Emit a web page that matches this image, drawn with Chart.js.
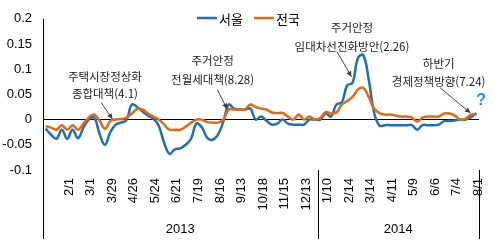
<!DOCTYPE html>
<html lang="ko">
<head>
<meta charset="utf-8">
<title>서울 / 전국 주간 아파트 매매가격 변동률</title>
<script src="https://cdn.jsdelivr.net/npm/chart.js@4.4.1/dist/chart.umd.min.js"></script>
<style>
  html, body { margin: 0; padding: 0; background: #fff; }
  #wrap { width: 500px; height: 244px; }
</style>
</head>
<body>
<div id="wrap"><canvas id="myChart" width="500" height="244"></canvas></div>
<script>
// 주간 기준일 (2013.1.4 ~ 2014.8.1, 추석/설 주간 빠짐)
const weeks = [
  "1/4", "1/11", "1/18", "1/25", "2/1", "2/8", "2/15", "2/22", "3/1", "3/8",
  "3/15", "3/22", "3/29", "4/5", "4/12", "4/19", "4/26", "5/3", "5/10", "5/17",
  "5/24", "5/31", "6/7", "6/14", "6/21", "6/28", "7/5", "7/12", "7/19", "7/26",
  "8/2", "8/9", "8/16", "8/23", "8/30", "9/6", "9/13", "9/27", "10/4", "10/11",
  "10/18", "10/25", "11/1", "11/8", "11/15", "11/22", "11/29", "12/6", "12/13", "12/20",
  "12/27", "1/3", "1/10", "1/17", "1/24", "2/7", "2/14", "2/21", "2/28", "3/7",
  "3/14", "3/21", "3/28", "4/4", "4/11", "4/18", "4/25", "5/2", "5/9", "5/16",
  "5/23", "5/30", "6/6", "6/13", "6/20", "6/27", "7/4", "7/11", "7/18", "7/25",
  "8/1"
];

// 서울
const seoul = [
  -0.018, -0.030, -0.038, -0.020, -0.038, -0.020, -0.037, -0.016, 0.000, 0.004,
  -0.028, -0.050, -0.025, -0.010, -0.006, -0.001, 0.030, 0.025, 0.016, 0.008,
  0.002, -0.012, -0.046, -0.068, -0.059, -0.057, -0.050, -0.038, -0.008, -0.015,
  -0.036, -0.040, -0.030, -0.004, 0.030, 0.022, 0.020, 0.020, 0.022, 0.000,
  0.006, -0.002, -0.010, -0.008, 0.000, -0.008, -0.010, -0.010, -0.010, 0.000,
  0.000, 0.000, 0.012, 0.006, 0.030, 0.034, 0.068, 0.073, 0.122, 0.128,
  0.080, 0.014, -0.012, -0.011, -0.011, -0.011, -0.011, -0.011, -0.011, -0.020,
  -0.011, -0.011, -0.011, -0.010, -0.003, -0.003, -0.002, 0.000, 0.000, 0.005,
  0.013
];

// 전국
const national = [
  -0.013, -0.016, -0.020, -0.011, -0.020, -0.011, -0.020, -0.008, 0.004, 0.010,
  -0.002, -0.018, -0.003, 0.000, 0.001, 0.004, 0.012, 0.021, 0.020, 0.012,
  0.006, 0.000, -0.010, -0.020, -0.020, -0.020, -0.014, -0.006, 0.000, 0.000,
  -0.005, -0.006, -0.006, 0.000, 0.020, 0.020, 0.020, 0.020, 0.030, 0.025,
  0.022, 0.020, 0.014, 0.013, 0.013, 0.006, 0.000, 0.010, 0.000, 0.006,
  0.000, 0.003, 0.015, 0.012, 0.014, 0.030, 0.037, 0.045, 0.060, 0.063,
  0.045, 0.022, 0.013, 0.010, 0.010, 0.008, 0.006, 0.006, 0.004, -0.004,
  0.004, 0.006, 0.006, 0.006, 0.012, 0.012, 0.008, 0.000, 0.002, 0.010,
  0.010
];

const years = ["2013", "2014"];
const yearFirstWeek = [0, 51];

// 정책 발표 메모
const noteTexts = [
  ["주택시장정상화", "종합대책(4.1)"],
  ["주거안정", "전월세대책(8.28)"],
  ["주거안정", "임대차선진화방안(2.26)"],
  ["하반기", "경제정책방향(7.24)"]
];

// 메모 위치 (x: 주 index, y: 값)
const noteLayout = [
  { x: 11.0, y: [0.085, 0.051], from: [10.3, 0.034], to: [12.4, 0.001] },
  { x: 31.0, y: [0.118, 0.080], from: [31.9, 0.059], to: [33.7, 0.021] },
  { x: 56.9, y: [0.182, 0.144], from: [54.1, 0.135], to: [56.8, 0.085] },
  { x: 73.0, y: [0.112, 0.076], from: [73.3, 0.063], to: [78.9, 0.013] }
];

const KFONT = '"Noto Sans CJK KR", "Noto Sans", sans-serif';

function drawArrow(ctx, x0, y0, x1, y1) {
  ctx.beginPath();
  ctx.moveTo(x0, y0);
  ctx.lineTo(x1, y1);
  ctx.stroke();
  const a = Math.atan2(y1 - y0, x1 - x0);
  const s = 6;
  ctx.beginPath();
  ctx.moveTo(x1, y1);
  ctx.lineTo(x1 - s * Math.cos(a - 0.45), y1 - s * Math.sin(a - 0.45));
  ctx.lineTo(x1 - s * Math.cos(a + 0.45), y1 - s * Math.sin(a + 0.45));
  ctx.closePath();
  ctx.fill();
}

// 축선, 연도 구분, 범례, 메모 그리기
const overlay = {
  id: "overlay",
  afterDraw(chart) {
    const { ctx, chartArea } = chart;
    const x = chart.scales.x;
    const y = chart.scales.y;
    const bottom = chart.height - 5;
    ctx.save();

    // 세로축 + 연도 구분선
    ctx.strokeStyle = "#000";
    ctx.lineWidth = 1;
    const seps = yearFirstWeek.map(i => x.getPixelForValue(i - 0.5));
    seps.push(x.getPixelForValue(weeks.length - 0.5));
    seps.forEach((px, k) => {
      const xx = Math.round(px) + 0.5;
      ctx.beginPath();
      ctx.moveTo(xx, k === 0 ? chartArea.top : chartArea.bottom);
      ctx.lineTo(xx, bottom);
      ctx.stroke();
    });

    // 연도
    ctx.fillStyle = "#000";
    ctx.font = '13px "Liberation Sans", Arial, sans-serif';
    ctx.textAlign = "center";
    ctx.textBaseline = "middle";
    years.forEach((yr, k) => {
      const cx = (seps[k] + seps[k + 1]) / 2;
      ctx.fillText(yr, cx, 229);
    });

    // 범례
    ctx.font = "13px " + KFONT;
    ctx.textAlign = "left";
    let lx = 197;
    chart.data.datasets.forEach(ds => {
      ctx.strokeStyle = ds.borderColor;
      ctx.lineWidth = 2.5;
      ctx.beginPath();
      ctx.moveTo(lx, 18);
      ctx.lineTo(lx + 20, 18);
      ctx.stroke();
      ctx.fillStyle = "#000";
      ctx.fillText(ds.label, lx + 22, 19);
      lx += 22 + ctx.measureText(ds.label).width + 11;
    });

    // 메모 + 화살표
    ctx.font = '11.5px "Liberation Sans Narrow", ' + KFONT;
    ctx.textAlign = "center";
    ctx.fillStyle = "#1a1a1a";
    ctx.strokeStyle = "#404040";
    ctx.lineWidth = 1;
    noteTexts.forEach((lines, k) => {
      const n = noteLayout[k];
      const cx = x.getPixelForValue(n.x);
      lines.forEach((t, j) => ctx.fillText(t, cx, y.getPixelForValue(n.y[j])));
      ctx.fillStyle = "#404040";
      drawArrow(ctx,
        x.getPixelForValue(n.from[0]), y.getPixelForValue(n.from[1]),
        x.getPixelForValue(n.to[0]), y.getPixelForValue(n.to[1]));
      ctx.fillStyle = "#1a1a1a";
    });

    // 물음표
    ctx.fillStyle = "#2e8fd0";
    ctx.font = 'bold 16px "Liberation Sans", Arial, sans-serif';
    ctx.fillText("?", x.getPixelForValue(80.9), y.getPixelForValue(0.038));
    ctx.restore();
  }
};

function initChart() {
  const ctx = document.getElementById("myChart").getContext("2d");
  new Chart(ctx, {
    type: "line",
    data: {
      labels: weeks,
      datasets: [
        {
          label: "서울",
          data: seoul,
          borderColor: "#1f6fb8",
          borderWidth: 2.5,
          pointRadius: 0,
          tension: 0.4,
          fill: false,
          order: 2
        },
        {
          label: "전국",
          data: national,
          borderColor: "#e4690f",
          borderWidth: 2.5,
          pointRadius: 0,
          tension: 0.4,
          fill: false,
          order: 1
        }
      ]
    },
    options: {
      responsive: false,
      animation: false,
      layout: { padding: { top: 7, right: 6, left: 0, bottom: 0 } },
      plugins: {
        legend: { display: false },
        tooltip: { enabled: false }
      },
      scales: {
        x: {
          offset: true,
          grid: { display: false, drawTicks: false },
          border: { display: false },
          ticks: {
            autoSkip: false,
            minRotation: 90,
            maxRotation: 90,
            padding: 8,
            labelOffset: 2,
            color: "#000",
            font: { family: '"Liberation Sans", Arial, sans-serif', size: 13 },
            callback: (v, i) => (i % 4 === 0 && i > 0) ? weeks[i] : ""
          },
          afterFit: s => { s.height = 74; }
        },
        y: {
          min: -0.1,
          max: 0.2,
          border: { display: false },
          grid: {
            drawTicks: false,
            color: c => (c.tick && Math.abs(c.tick.value) < 1e-9) ? "#000" : "rgba(0,0,0,0)",
            lineWidth: 1
          },
          ticks: {
            stepSize: 0.05,
            padding: 11,
            color: "#000",
            font: { family: '"Liberation Sans", Arial, sans-serif', size: 13 },
            callback: v => String(Math.round(v * 100) / 100)
          },
          afterFit: s => { s.width = 43; }
        }
      }
    },
    plugins: [overlay]
  });
}

window.onload = function () {
  initChart();
};
</script>
</body>
</html>
